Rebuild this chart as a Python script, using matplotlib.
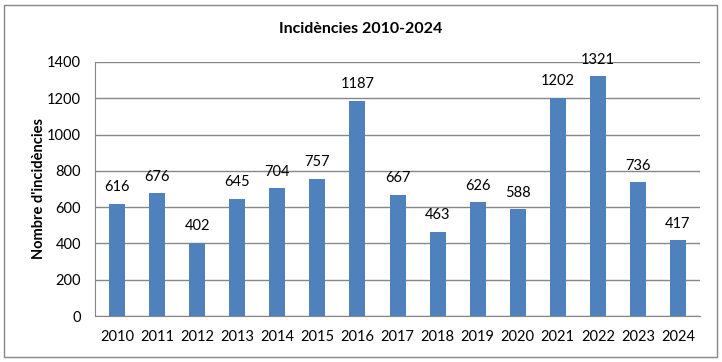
import matplotlib.pyplot as plt
from matplotlib.patches import Rectangle

years = ['2010', '2011', '2012', '2013', '2014', '2015', '2016', '2017',
         '2018', '2019', '2020', '2021', '2022', '2023', '2024']
incidencies = [616, 676, 402, 645, 704, 757, 1187, 667, 463, 626, 588, 1202, 1321, 736, 417]

plt.rcParams['font.family'] = ['Lato', 'DejaVu Sans']

fig = plt.figure(figsize=(7.22, 3.62), dpi=100)
ax = fig.add_axes([0.1316, 0.127, 0.838, 0.702])

x = range(len(years))
ax.bar(x, incidencies, width=0.4, color='#4F81BD', zorder=3)
for i, v in zip(x, incidencies):
    ax.annotate(str(v), (i, v), xytext=(0, 7), textcoords='offset points',
                ha='center', va='bottom', fontsize=10.5)

ax.set_ylim(0, 1400)
ax.set_xlim(-0.55, len(years) - 0.45)
ax.set_yticks(range(0, 1401, 200))
ax.set_xticks(list(x))
ax.set_xticklabels(years)
ax.tick_params(axis='both', length=0, labelsize=10.5)
ax.tick_params(axis='x', pad=10)
ax.tick_params(axis='y', pad=10)
ax.yaxis.grid(True, color='#868686', linewidth=1, zorder=0)
for s in ['top', 'right']:
    ax.spines[s].set_visible(False)
for s in ['left', 'bottom']:
    ax.spines[s].set_color('#868686')

ax.set_ylabel("Nombre d'incidències", fontsize=10.5, fontweight='bold', labelpad=1)
fig.text(0.5, 0.92, 'Incidències 2010-2024', ha='center', va='center',
         fontsize=11.5, fontweight='bold')

fig.patches.append(Rectangle((0.005, 0.015), 0.988, 0.972, transform=fig.transFigure,
                             fill=False, edgecolor='#868686', linewidth=1))

fig.savefig('out.png', dpi=100)
